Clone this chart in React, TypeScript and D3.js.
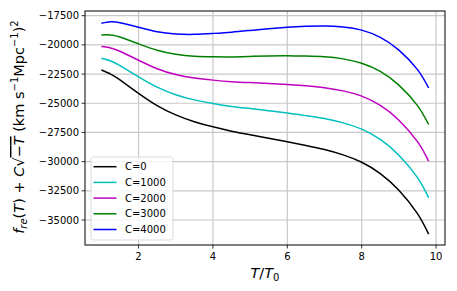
import React from "react";
import * as d3 from "d3";

const tValues = [1, 1.25, 1.5, 2, 2.5, 3, 3.5, 4, 4.5, 5, 5.5, 6, 6.5, 7, 7.5, 8, 8.5, 9, 9.5, 9.8];

const c0 = [-22150, -22500, -23000, -24150, -25200, -26000, -26580, -27020, -27390, -27700, -27990, -28290, -28610, -28960, -29420, -30050, -31020, -32450, -34450, -36210];
const c1000 = [-21150, -21380, -21780, -22740, -23620, -24270, -24710, -25020, -25270, -25460, -25650, -25840, -26060, -26310, -26680, -27220, -28100, -29450, -31370, -33080];
const c2000 = [-20150, -20260, -20550, -21320, -22040, -22540, -22840, -23020, -23150, -23230, -23300, -23390, -23510, -23670, -23940, -24390, -25190, -26450, -28290, -29950];
const c3000 = [-19150, -19150, -19330, -19910, -20460, -20800, -20970, -21020, -21030, -20990, -20950, -20940, -20960, -21020, -21200, -21570, -22270, -23450, -25200, -26820];
const c4000 = [-18150, -18030, -18100, -18490, -18880, -19070, -19100, -19020, -18910, -18760, -18610, -18490, -18410, -18380, -18470, -18740, -19360, -20450, -22120, -23690];

const seriesNames = ["C=0", "C=1000", "C=2000", "C=3000", "C=4000"];
const seriesColors = ["#000000", "#00bfbf", "#bf00bf", "#008000", "#0000ff"];
const seriesValues = [c0, c1000, c2000, c3000, c4000];

const xTicks = [2, 4, 6, 8, 10];
const yTicks = [-35000, -32500, -30000, -27500, -25000, -22500, -20000, -17500];

const W = 457;
const H = 291;
const margin = { left: 85, right: 12, top: 11, bottom: 46 };
const FONT = "DejaVu Sans, sans-serif";

const App = () => {
    const x = d3.scaleLinear().domain([0.56, 10.24]).range([margin.left, W - margin.right]);
    const y = d3.scaleLinear().domain([-37140, -17100]).range([H - margin.bottom, margin.top]);

    const line = d3
        .line<number>()
        .x((d, i) => x(tValues[i]))
        .y((d) => y(d))
        .curve(d3.curveNatural);

    const x0 = margin.left;
    const x1 = W - margin.right;
    const y0 = H - margin.bottom;
    const y1 = margin.top;

    return (
        <svg width={W} height={H} style={{ position: "absolute", left: 0, top: 0 }} fontFamily={FONT}>
            <rect x={0} y={0} width={W} height={H} fill="white" />
            {/* grid */}
            {xTicks.map((t) => (
                <line key={"gx" + t} x1={x(t)} x2={x(t)} y1={y0} y2={y1} stroke="#c8c8c8" strokeWidth={1.2} />
            ))}
            {yTicks.map((t) => (
                <line key={"gy" + t} x1={x0} x2={x1} y1={y(t)} y2={y(t)} stroke="#c8c8c8" strokeWidth={1.2} />
            ))}

            {/* curves */}
            {seriesValues.map((vals, i) => (
                <path key={i} d={line(vals) || ""} fill="none" stroke={seriesColors[i]} strokeWidth={1.5} />
            ))}

            {/* frame */}
            <rect x={x0} y={y1} width={x1 - x0} height={y0 - y1} fill="none" stroke="black" strokeWidth={1} />

            {/* ticks */}
            {xTicks.map((t) => (
                <g key={"tx" + t}>
                    <line x1={x(t)} x2={x(t)} y1={y0} y2={y0 + 3.5} stroke="black" strokeWidth={0.8} />
                    <text x={x(t)} y={y0 + 15} fontSize={10} textAnchor="middle">{t}</text>
                </g>
            ))}
            {yTicks.map((t) => (
                <g key={"ty" + t}>
                    <line x1={x0 - 3.5} x2={x0} y1={y(t)} y2={y(t)} stroke="black" strokeWidth={0.8} />
                    <text x={x0 - 6} y={y(t) + 3.6} fontSize={10} textAnchor="end">{"\u2212" + Math.abs(t)}</text>
                </g>
            ))}

            {/* legend */}
            <rect x={91} y={157} width={82} height={83} rx={2.5} fill="white" fillOpacity={0.8} stroke="#d0d0d0" strokeWidth={0.8} />
            {seriesNames.map((name, i) => (
                <g key={name} transform={`translate(0, ${166.7 + i * 15.7})`}>
                    <line x1={93.5} x2={116.5} y1={0} y2={0} stroke={seriesColors[i]} strokeWidth={1.5} />
                    <text x={125} y={3.6} fontSize={10}>{name}</text>
                </g>
            ))}

            {/* x label */}
            <text x={(x0 + x1) / 2} y={278} fontSize={14.5} textAnchor="middle">
                <tspan fontStyle="italic">T</tspan>/<tspan fontStyle="italic">T</tspan>
                <tspan fontSize={10} dy={3}>0</tspan>
            </text>

            {/* y label */}
            <text transform="translate(24, 127) rotate(-90)" fontSize={14.5} textAnchor="middle">
                <tspan fontStyle="italic">f</tspan>
                <tspan fontSize={10} fontStyle="italic" dy={3}>re</tspan>
                <tspan dy={-3}>(</tspan>
                <tspan fontStyle="italic">T</tspan>
                <tspan>) + </tspan>
                <tspan fontStyle="italic">C</tspan>
                <tspan>{"\u221A"}</tspan>
                <tspan style={{ textDecoration: "overline" }}>{"\u2212"}<tspan fontStyle="italic">T</tspan></tspan>
                <tspan> (km s</tspan>
                <tspan fontSize={10} dy={-6}>{"\u22121"}</tspan>
                <tspan dy={6}>Mpc</tspan>
                <tspan fontSize={10} dy={-6}>{"\u22121"}</tspan>
                <tspan dy={6}>)</tspan>
                <tspan fontSize={10} dy={-6}>2</tspan>
            </text>
        </svg>
    );
};

export default App;
